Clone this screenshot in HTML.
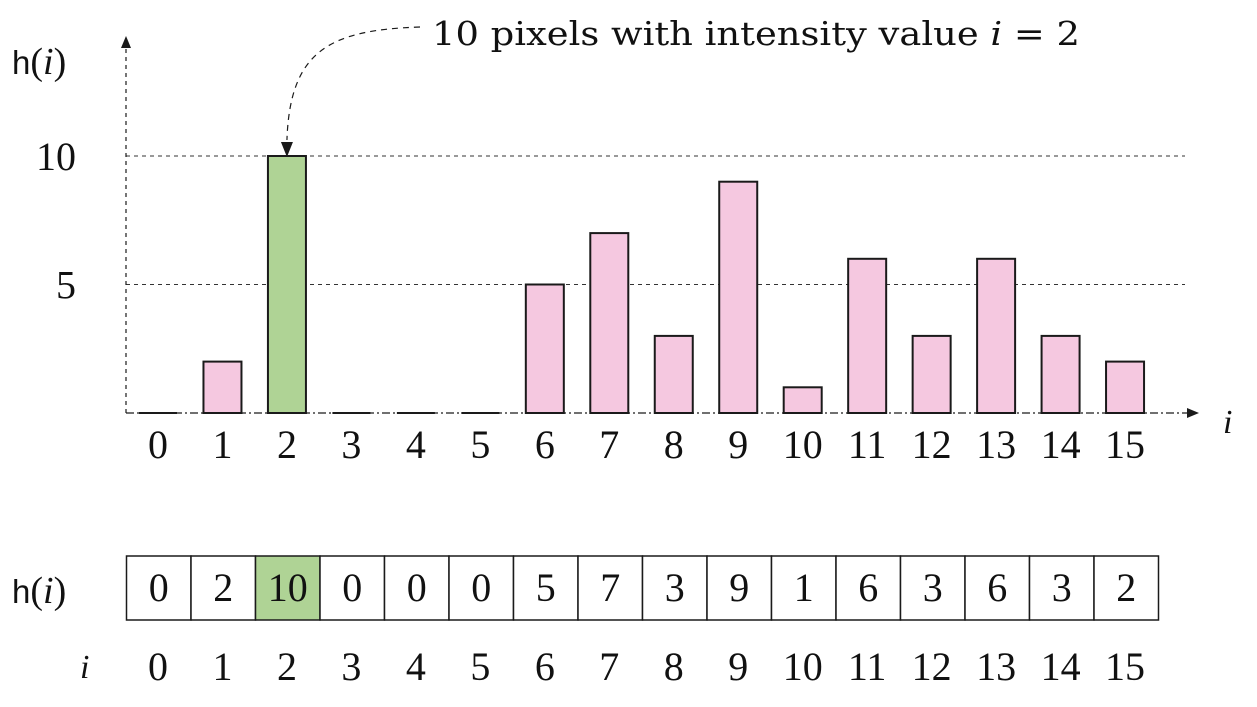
<!DOCTYPE html>
<html><head><meta charset="utf-8"><style>
body{margin:0;background:#fff}
svg{display:block}
text{font-family:"Liberation Serif",serif;fill:#111}
</style></head><body>
<svg id="c" width="1257" height="707">
<defs>
<marker id="ah" markerWidth="12" markerHeight="10" refX="10" refY="5" orient="auto" markerUnits="userSpaceOnUse"><path d="M0,0L12,5L0,10z" fill="#1a1a1a"/></marker>
</defs>
</svg>
<script>
const categories=[0,1,2,3,4,5,6,7,8,9,10,11,12,13,14,15];
const values=[0,2,10,0,0,0,5,7,3,9,1,6,3,6,3,2];
const highlight=2;
const yTicks=[5,10];
const NS="http://www.w3.org/2000/svg";
const svg=document.getElementById('c');
function x(i){return 158+i*64.47;}
function y(v){return 413-v*25.7;}
function mk(t,a,p){const e=document.createElementNS(NS,t);for(const k in a)e.setAttribute(k,a[k]);(p||svg).appendChild(e);return e;}
yTicks.forEach(t=>{
 const l=mk('line',{x1:126,x2:1185,y1:y(t),y2:y(t),stroke:'#333','stroke-width':1,'stroke-dasharray':'4,4'});
 
 
 const tx=mk('text',{x:76,y:y(t)+14,'font-size':40,'text-anchor':'end'});tx.textContent=t;
 
 
});
const ya=mk('line',{x1:126,y1:413,x2:126,y2:38,stroke:'#1a1a1a','stroke-width':1.2,'stroke-dasharray':'4,4','marker-end':'url(#ah)'});


categories.forEach((c,i)=>{
 const v=values[i];
 if(v>0){
  const r=mk('rect',{x:x(i)-19,y:y(v),width:38,height:413-y(v),fill:i===highlight?'#afd395':'#f5c8e0',stroke:'#1a1a1a','stroke-width':2});
  
  
 } else {
  const r=mk('line',{x1:x(i)-19,x2:x(i)+19,y1:413,y2:413,stroke:'#1a1a1a','stroke-width':2});
  
  
 }
 const t=mk('text',{x:x(i),y:458,'font-size':40,'text-anchor':'middle'});t.textContent=c;
 
 
 const cx=126.5+i*64.5;
 const cell=mk('rect',{x:cx,y:556,width:64.5,height:64,fill:i===highlight?'#afd395':'#fff',stroke:'#1a1a1a','stroke-width':1.5});
 
 
 const ct=mk('text',{x:cx+32.25,y:601,'font-size':40,'text-anchor':'middle'});ct.textContent=v;
 
 
 const it=mk('text',{x:x(i),y:680,'font-size':40,'text-anchor':'middle'});it.textContent=c;
 
 
});
const xa=mk('line',{x1:126,y1:413,x2:1197,y2:413,stroke:'#1a1a1a','stroke-width':1.2,'stroke-dasharray':'8,3,2,3','marker-end':'url(#ah)'});


const hx=x(highlight);
const ap=mk('path',{d:`M420,27 C330,30 290,50 ${hx},140`,fill:'none',stroke:'#1a1a1a','stroke-width':1.2,'stroke-dasharray':'6,5'});


const ah=mk('path',{d:`M${hx-6},142 L${hx+6},142 L${hx},157z`,fill:'#1a1a1a'});


</script>
<svg style="position:absolute;left:0;top:0" width="1257" height="707">
<text x="432" y="45" font-size="33" textLength="648" lengthAdjust="spacingAndGlyphs" style="font-family:'DejaVu Serif',serif">10 pixels with intensity value <tspan font-style="italic">i</tspan> = 2</text>
<text x="12" y="74" font-size="38"><tspan style="font-family:'Liberation Sans',sans-serif" font-size="33">h</tspan>(<tspan font-style="italic">i</tspan>)</text>
<text x="1223" y="433" font-size="34" font-style="italic">i</text>
<text x="12" y="603" font-size="38"><tspan style="font-family:'Liberation Sans',sans-serif" font-size="33">h</tspan>(<tspan font-style="italic">i</tspan>)</text>
<text x="80" y="678" font-size="34" font-style="italic">i</text>
</svg>
</body></html>
